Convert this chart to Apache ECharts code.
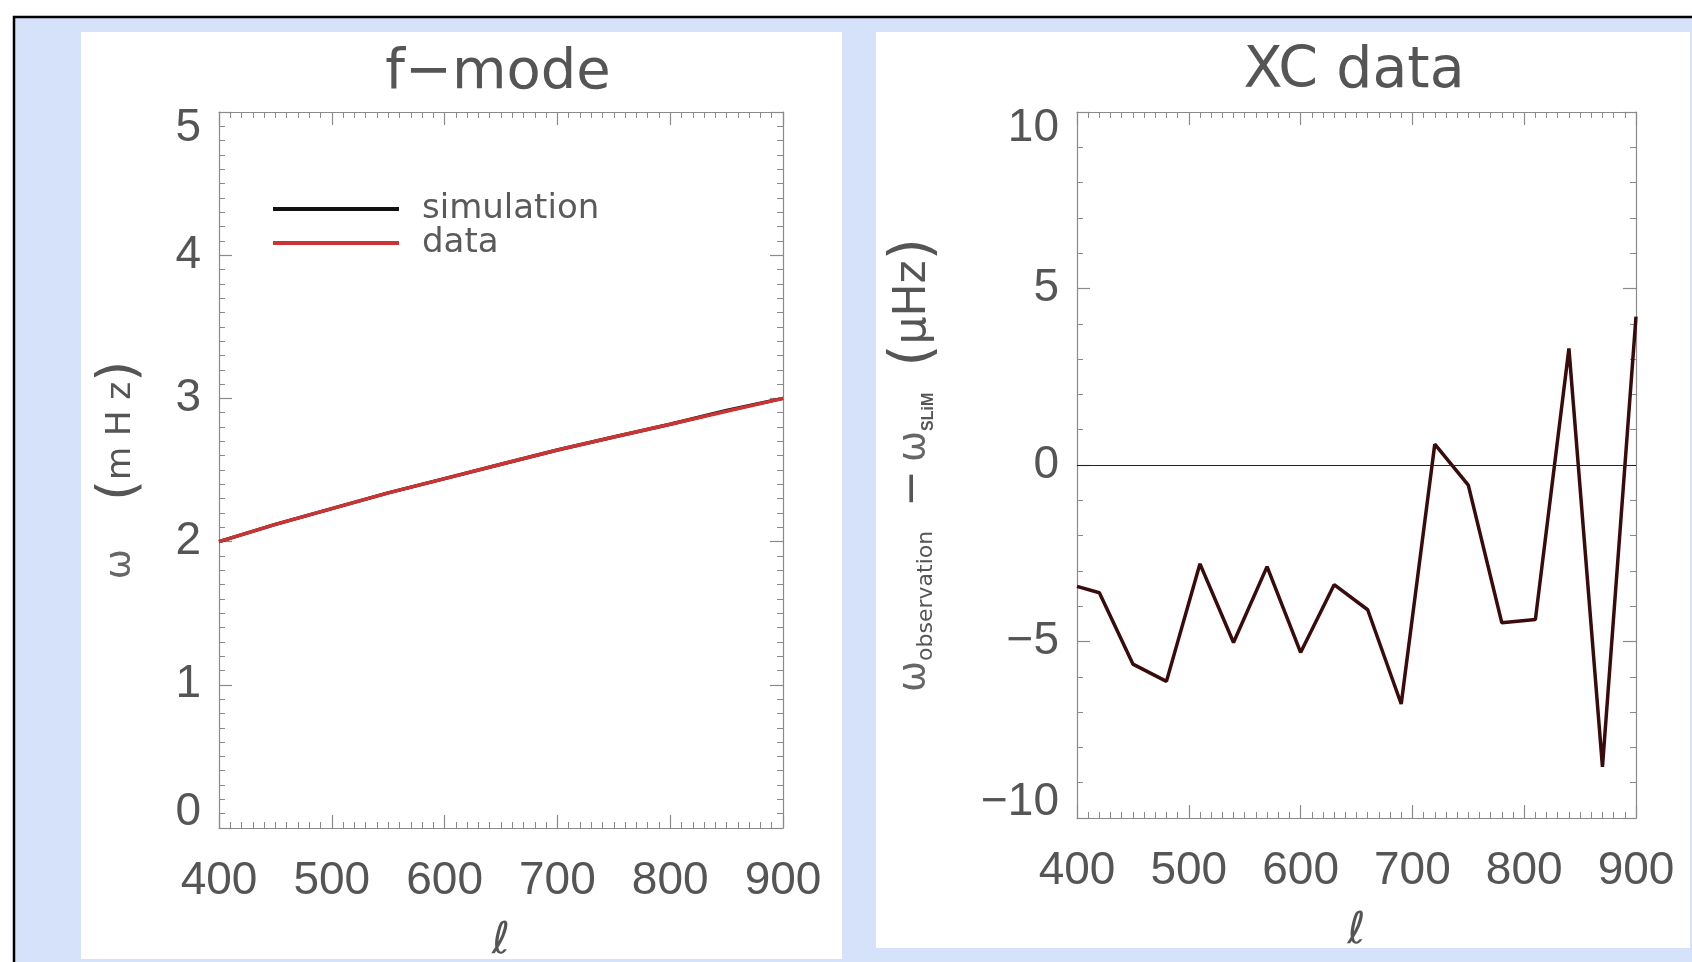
<!DOCTYPE html>
<html>
<head>
<meta charset="utf-8">
<script src="https://cdn.jsdelivr.net/npm/echarts@6/dist/echarts.min.js"></script>
<style>
html,body{margin:0;padding:0;background:#ffffff;}
#c{width:1692px;height:962px;}
</style>
</head>
<body>
<div id="c"></div>
<script>
// ---- data ----
const ellTicks = [400, 500, 600, 700, 800, 900];
const freqTicks = [0, 1, 2, 3, 4, 5];
const diffTicks = [-10, -5, 0, 5, 10];

const fmodeEll = [400, 450, 500, 550, 600, 650, 700, 750, 800, 850, 900];
const simulationFreq = [2.00, 2.12, 2.23, 2.34, 2.44, 2.54, 2.64, 2.73, 2.82, 2.915, 3.00];
const dataFreq = [2.00, 2.12, 2.23, 2.34, 2.44, 2.54, 2.64, 2.73, 2.82, 2.91, 3.00];

const xcEll = [400, 420, 450, 480, 510, 540, 570, 600, 630, 660, 690, 720, 750, 780, 810, 840, 870, 900];
const xcDiff = [-3.44, -3.62, -5.64, -6.13, -2.80, -5.03, -2.88, -5.31, -3.39, -4.10, -6.77, 0.59, -0.57, -4.47, -4.38, 3.30, -8.55, 4.20];

const zeroLevel = 0;

// ---- styling ----
const axisColor = '#8a8a8a';
const labelColor = '#555555';
const tickFont = 'Liberation Sans';
const textFont = 'DejaVu Sans';

function pairs(xs, ys) { return xs.map((x, i) => [x, ys[i]]); }
function minusFmt(v) { return String(v).replace('-', '\u2212'); }

function xAxisDef(grid, pos, withLabels, margin, nameGap) {
  return {
    type: 'value', gridIndex: grid, position: pos,
    min: ellTicks[0], max: ellTicks[ellTicks.length - 1], interval: ellTicks[1] - ellTicks[0],
    axisLine: { show: true, onZero: false, lineStyle: { color: axisColor, width: 1.2 } },
    axisTick: { show: true, inside: true, length: 13, lineStyle: { color: axisColor, width: 1.2 } },
    minorTick: { show: true, splitNumber: 10, length: 6, lineStyle: { color: axisColor, width: 1 } },
    splitLine: { show: false }, minorSplitLine: { show: false },
    axisLabel: { show: withLabels, margin: margin || 30, fontFamily: tickFont, fontSize: 46, color: labelColor },
    name: withLabels ? '\u2113' : '',
    nameLocation: 'middle', nameGap: nameGap || 92,
    nameTextStyle: { fontFamily: textFont, fontStyle: 'italic', fontSize: 44, color: '#555' }
  };
}

function yAxisDef(grid, pos, ticks, minorSplit, withLabels, name, nameGap, rich) {
  return {
    type: 'value', gridIndex: grid, position: pos,
    min: ticks[0], max: ticks[ticks.length - 1], interval: ticks[1] - ticks[0],
    axisLine: { show: true, onZero: false, lineStyle: { color: axisColor, width: 1.2 } },
    axisTick: { show: true, inside: true, length: 13, lineStyle: { color: axisColor, width: 1.2 } },
    minorTick: { show: true, splitNumber: minorSplit, length: 6, lineStyle: { color: axisColor, width: 1 } },
    splitLine: { show: false }, minorSplitLine: { show: false },
    axisLabel: {
      show: withLabels, margin: 18, fontFamily: tickFont, fontSize: 46, lineHeight: 32, color: labelColor,
      formatter: minusFmt, verticalAlignMinLabel: 'bottom', verticalAlignMaxLabel: 'top'
    },
    name: name || '', nameLocation: 'middle', nameRotate: 90, nameGap: nameGap || 0,
    nameTextStyle: { color: '#555', rich: rich || {} }
  };
}

const leftRich = {
  w: { fontFamily: textFont, fontSize: 36, lineHeight: 44, color: '#666' },
  g: { fontFamily: textFont, fontSize: 34, lineHeight: 44, width: 48 },
  p: { fontFamily: textFont, fontSize: 54, lineHeight: 44, color: '#555' },
  t: { fontFamily: textFont, fontSize: 34, lineHeight: 44, color: '#555' }
};
const rightRich = {
  w: { fontFamily: textFont, fontSize: 37, lineHeight: 46, color: '#666' },
  sub: { fontFamily: textFont, fontSize: 22, lineHeight: 20, verticalAlign: 'bottom', color: '#555' },
  subb: { fontFamily: tickFont, fontWeight: 'bold', fontSize: 16, lineHeight: 20, verticalAlign: 'bottom', color: '#555' },
  g1: { fontFamily: textFont, fontSize: 34, lineHeight: 46, width: 24 },
  g2: { fontFamily: textFont, fontSize: 34, lineHeight: 46, width: 8 },
  g3: { fontFamily: textFont, fontSize: 34, lineHeight: 46, width: 26 },
  p: { fontFamily: textFont, fontSize: 57, lineHeight: 46, color: '#555' },
  t: { fontFamily: textFont, fontSize: 44, lineHeight: 46, color: '#555' }
};

const chart = echarts.init(document.getElementById('c'), null, { renderer: 'canvas' });
chart.setOption({
  animation: false,
  backgroundColor: '#ffffff',
  graphic: [
    { type: 'rect', z: -100, shape: { x: 14, y: 17, width: 1700, height: 960 },
      style: { fill: '#d5e2fa', stroke: '#000000', lineWidth: 2.5 } },
    { type: 'rect', z: -99, shape: { x: 81, y: 32, width: 761, height: 927 }, style: { fill: '#ffffff' } },
    { type: 'rect', z: -99, shape: { x: 876, y: 32, width: 814, height: 916 }, style: { fill: '#ffffff' } }
  ],
  title: [
    { text: 'f\u2212mode', left: 498, top: 45, textAlign: 'center', padding: 0,
      textStyle: { fontFamily: textFont, fontSize: 56, fontWeight: 'normal', color: '#555' } },
    { text: 'XC data', left: 1354, top: 44, textAlign: 'center', padding: 0,
      textStyle: { fontFamily: textFont, fontSize: 57, fontWeight: 'normal', color: '#555' } }
  ],
  legend: {
    left: 273, top: 192, orient: 'vertical', padding: 0, itemGap: 0,
    itemWidth: 126, itemHeight: 4, icon: 'rect', selectedMode: false,
    data: ['simulation', 'data'],
    textStyle: { fontFamily: textFont, fontSize: 34, lineHeight: 33, color: '#5a5a5a', padding: [0, 0, 0, 18] }
  },
  grid: [
    { left: 219, top: 112, width: 564, height: 716, outerBoundsMode: 'none', containLabel: false },
    { left: 1077, top: 112, width: 559, height: 706, outerBoundsMode: 'none', containLabel: false }
  ],
  xAxis: [
    xAxisDef(0, 'bottom', true, 30, 92),
    xAxisDef(0, 'top', false),
    xAxisDef(1, 'bottom', true, 30, 92),
    xAxisDef(1, 'top', false)
  ],
  yAxis: [
    yAxisDef(0, 'left', freqTicks, 10, true, '{w|\u03c9}{g| }{p|(}{t|m H z}{p|)}', 76, leftRich),
    yAxisDef(0, 'right', freqTicks, 10, false),
    yAxisDef(1, 'left', diffTicks, 5, true,
      '{w|\u03c9}{sub|observation}{g1| }{t|\u2212}{g2| }{w|\u03c9}{subb|SLiM}{g3| }{p|(}{t|\u03bcHz}{p|)}', 140, rightRich),
    yAxisDef(1, 'right', diffTicks, 5, false)
  ],
  series: [
    { name: 'simulation', type: 'line', xAxisIndex: 0, yAxisIndex: 0, data: pairs(fmodeEll, simulationFreq),
      symbol: 'none', color: '#111111', lineStyle: { color: '#111111', width: 3.5 }, z: 2 },
    { name: 'data', type: 'line', xAxisIndex: 0, yAxisIndex: 0, data: pairs(fmodeEll, dataFreq),
      symbol: 'none', color: '#cc3333', lineStyle: { color: '#cc3333', width: 3.5 }, z: 3 },
    { name: 'xc', type: 'line', xAxisIndex: 2, yAxisIndex: 2, data: pairs(xcEll, xcDiff),
      symbol: 'none', color: '#3a0b0b', lineStyle: { color: '#3a0b0b', width: 3.5 }, z: 3,
      markLine: { silent: true, symbol: ['none', 'none'], label: { show: false },
        lineStyle: { color: '#222222', width: 1.2, type: 'solid' }, data: [{ yAxis: zeroLevel }] } }
  ]
});
</script>
</body>
</html>
